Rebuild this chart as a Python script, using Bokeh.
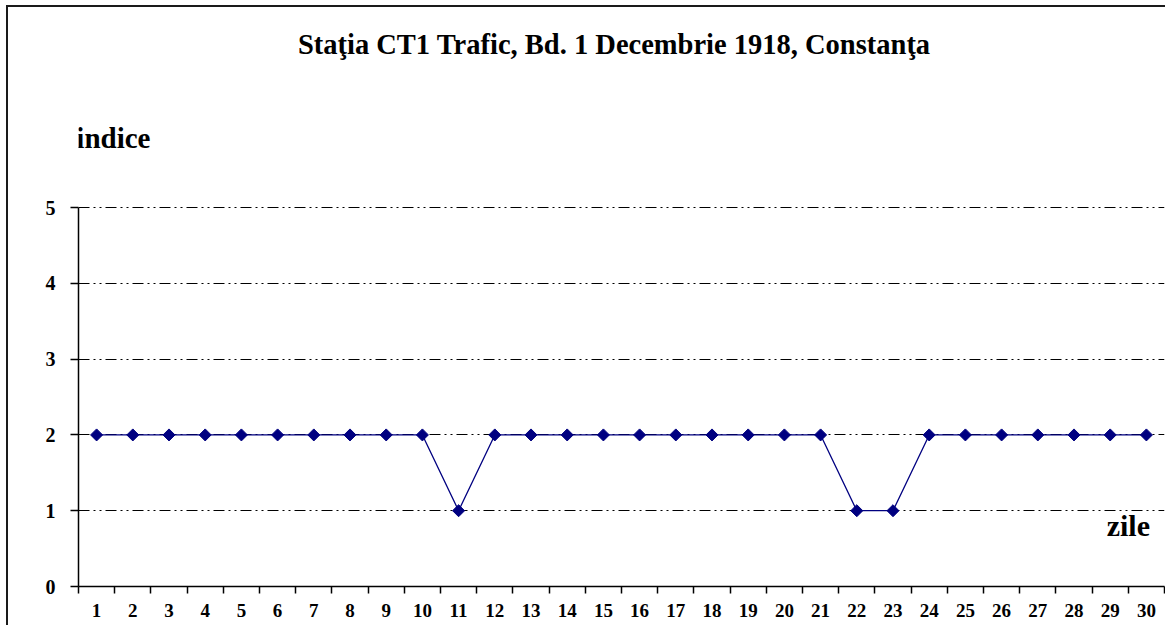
import math
from bokeh.plotting import figure
from bokeh.models import FixedTicker, Range1d, Label
from bokeh.embed import file_html
from bokeh.resources import INLINE

days = list(range(1, 31))
indice = [2, 2, 2, 2, 2, 2, 2, 2, 2, 2,
          1, 2, 2, 2, 2, 2, 2, 2, 2, 2,
          2, 1, 1, 2, 2, 2, 2, 2, 2, 2]
y_ticks = [0, 1, 2, 3, 4, 5]
title_text = "Staţia CT1 Trafic, Bd. 1 Decembrie 1918, Constanţa"
y_label = "indice"
x_label = "zile"

FONT = "Liberation Serif, serif"
NAVY = "#000080"

p = figure(width=1159, height=620, output_backend="svg", toolbar_location=None,
           x_range=Range1d(0.5, 30.5), y_range=Range1d(0, 7.64),
           min_border_left=70, min_border_right=3, min_border_top=0, min_border_bottom=41,
           background_fill_color="white", border_fill_color="white",
           styles={"margin-left": "6px", "margin-top": "5px",
                   "border-left": "2px solid #1a1a1a", "border-top": "2px solid #1a1a1a"})
p.outline_line_color = None

# grid
p.xgrid.grid_line_color = None
p.ygrid.ticker = FixedTicker(ticks=y_ticks[1:])
p.ygrid.grid_line_color = "black"
p.ygrid.grid_line_width = 1
p.ygrid.grid_line_dash = "11 4 2 4 2 4"

# x axis
xa = p.xaxis[0]
xa.ticker = FixedTicker(ticks=days, minor_ticks=[d - 0.5 for d in days] + [days[-1] + 0.5])
xa.major_tick_out = 0
xa.major_tick_in = 0
xa.minor_tick_out = 7
xa.minor_tick_in = 0
xa.axis_line_color = "black"
xa.axis_line_width = 1.5
xa.minor_tick_line_color = "black"
xa.minor_tick_line_width = 1.5
xa.major_label_text_font = FONT
xa.major_label_text_font_style = "bold"
xa.major_label_text_font_size = "19px"
xa.major_label_text_color = "black"
xa.major_label_standoff = 10

# y axis
ya = p.yaxis[0]
ya.ticker = FixedTicker(ticks=y_ticks)
ya.bounds = (y_ticks[0], y_ticks[-1])
ya.minor_tick_line_color = None
ya.major_tick_out = 8
ya.major_tick_in = 0
ya.axis_line_color = "black"
ya.axis_line_width = 1.5
ya.major_tick_line_color = "black"
ya.major_tick_line_width = 1.5
ya.major_label_text_font = FONT
ya.major_label_text_font_style = "bold"
ya.major_label_text_font_size = "20px"
ya.major_label_text_color = "black"
ya.major_label_standoff = 15

# data
p.line(days, indice, line_color=NAVY, line_width=1.3)
p.scatter(days, indice, marker="square", angle=math.pi / 4, size=8.5,
          fill_color=NAVY, line_color=NAVY)

# texts
p.add_layout(Label(x=15.3, y=7.15, text=title_text, text_font=FONT, text_font_style="bold",
                   text_font_size="28.5px", text_align="center", text_baseline="middle",
                   text_color="black"))
p.add_layout(Label(x=0.44, y=5.92, text=y_label, text_font=FONT, text_font_style="bold",
                   text_font_size="29px", text_align="left", text_baseline="middle",
                   text_color="black"))
p.add_layout(Label(x=30.1, y=0.8, text=x_label, text_font=FONT, text_font_style="bold",
                   text_font_size="30px", text_align="right", text_baseline="middle",
                   text_color="black"))

open("out.html", "w").write(file_html(p, INLINE))
